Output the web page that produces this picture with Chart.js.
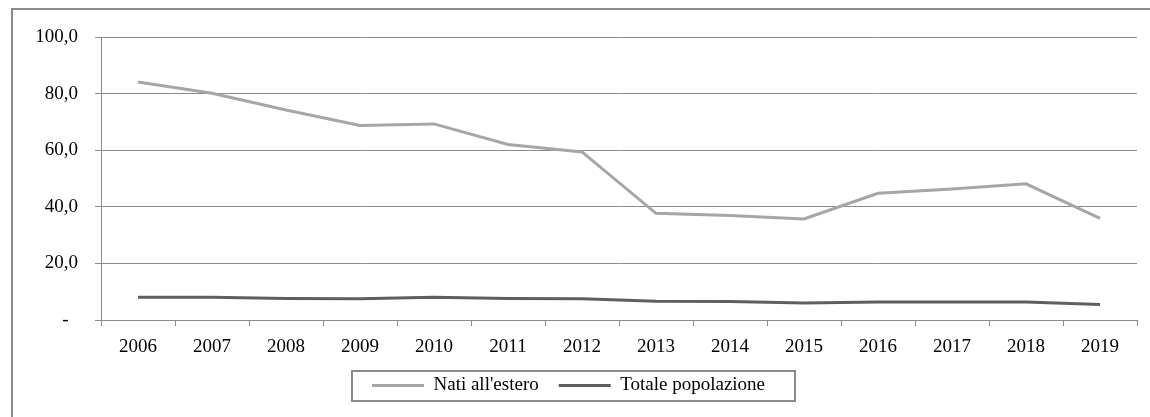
<!DOCTYPE html>
<html lang="it">
<head>
<meta charset="UTF-8">
<title>Nati all'estero / Totale popolazione</title>
<script src="https://cdn.jsdelivr.net/npm/chart.js@4.4.1/dist/chart.umd.min.js"></script>
<style>
    html, body { margin: 0; padding: 0; background: #fff; overflow: hidden; }
    #wrap { position: absolute; left: 0; top: 0; width: 1150px; height: 417px; }
    #frame { position: absolute; left: 11px; top: 8px; width: 1200px; height: 500px;
             border: 2px solid #8a8a8a; box-sizing: border-box; }
</style>
</head>
<body>
<div id="frame"></div>
<div id="wrap"><canvas id="c"></canvas></div>
<script>
    // dati
    const anni = ['2006', '2007', '2008', '2009', '2010', '2011', '2012',
                  '2013', '2014', '2015', '2016', '2017', '2018', '2019'];
    const natiEstero = [84.1, 80.1, 74.2, 68.7, 69.3, 62.0, 59.4, 37.7, 36.9, 35.7, 44.8, 46.3, 48.1, 35.9];
    const totalePop = [8.0, 8.0, 7.6, 7.5, 8.0, 7.6, 7.5, 6.6, 6.5, 6.0, 6.4, 6.4, 6.4, 5.5];
    const yTicks = [0, 20, 40, 60, 80, 100];

    const font = { family: "'Liberation Serif', 'Times New Roman', serif", size: 19 };

    // cornice attorno alla legenda
    const legendBox = {
        id: 'legendBox',
        afterDraw(chart) {
            const hb = chart.legend.legendHitBoxes;
            if (!hb || !hb.length) return;
            const first = hb[0], last = hb[hb.length - 1];
            const ctx = chart.ctx;
            const x0 = first.left - 20;
            const x1 = last.left + last.width + 30;
            ctx.save();
            ctx.strokeStyle = '#8a8a8a';
            ctx.lineWidth = 2;
            ctx.strokeRect(x0, first.top - 5, x1 - x0, 30);
            ctx.restore();
        }
    };

    new Chart(document.getElementById('c'), {
        type: 'line',
        data: {
            labels: anni,
            datasets: [{
                label: "Nati all'estero",
                data: natiEstero,
                borderColor: '#a6a6a6',
                backgroundColor: '#a6a6a6',
                borderWidth: 3,
                pointRadius: 0,
                tension: 0
            }, {
                label: 'Totale popolazione',
                data: totalePop,
                borderColor: '#5f5f5f',
                backgroundColor: '#5f5f5f',
                borderWidth: 3,
                pointRadius: 0,
                tension: 0
            }]
        },
        options: {
            responsive: true,
            maintainAspectRatio: false,
            animation: false,
            layout: { padding: { left: 0, top: 37, right: 13, bottom: 12 } },
            plugins: {
                tooltip: { enabled: false },
                legend: {
                    position: 'bottom',
                    labels: {
                        usePointStyle: true,
                        pointStyle: 'line',
                        pointStyleWidth: 52,
                        padding: 20,
                        color: '#000',
                        font: font
                    }
                }
            },
            scales: {
                x: {
                    offset: true,
                    grid: { offset: true, drawOnChartArea: false, drawTicks: true, tickLength: 6, color: '#8a8a8a' },
                    border: { color: '#8a8a8a' },
                    ticks: { color: '#000', font: font, padding: 10, maxRotation: 0 },
                    afterFit(scale) { scale.height = 36; }
                },
                y: {
                    min: 0,
                    max: 100,
                    afterBuildTicks(scale) { scale.ticks = yTicks.map(v => ({ value: v })); },
                    grid: { color: '#8a8a8a', tickLength: 6 },
                    border: { color: '#8a8a8a' },
                    ticks: {
                        color: '#000',
                        font: font,
                        padding: 17,
                        callback: v => v === 0 ? '-  ' : v.toFixed(1).replace('.', ',')
                    },
                    afterFit(scale) { scale.width = 101; }
                }
            }
        },
        plugins: [legendBox]
    });
</script>
</body>
</html>
